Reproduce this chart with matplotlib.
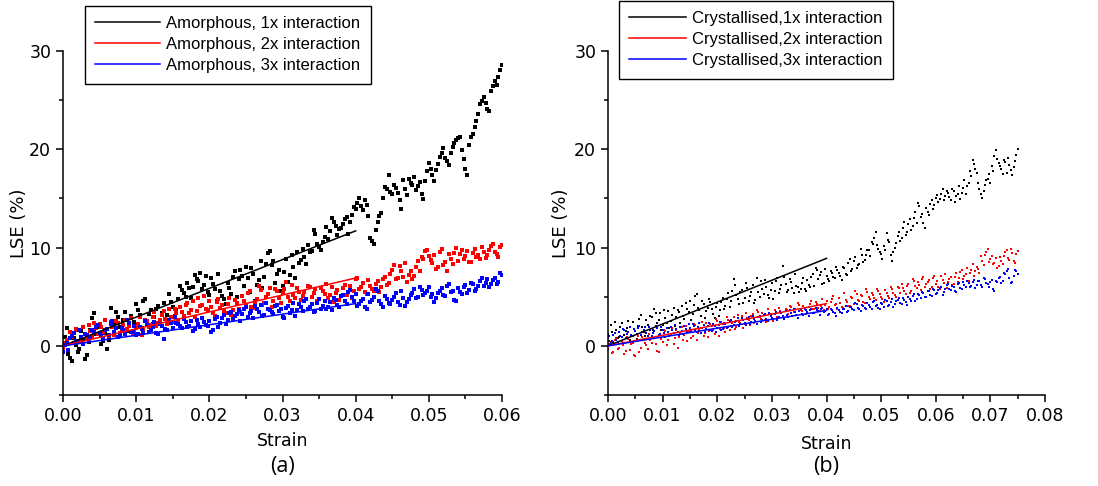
import numpy as np
import matplotlib.pyplot as plt
from matplotlib.ticker import MultipleLocator, FormatStrFormatter
from matplotlib.legend_handler import HandlerLine2D

# LSE (%). Main lists: one value every 0.0005 strain
# starting at 0; *_mid lists: the points in between (0.00025 + k*0.0005).
step = 0.0005

black_a = [0.2, 1.8, -1.2, 0.8, -0.6, 1.5, -1.3, 0.4, 2.8, 1.2,
           1.9, 0.5, -0.3, 3.9, 2.1, 2.9, 1.6, 3.4, 2.2, 1.3,
           4.3, 3.1, 4.6, 2.4, 3.6, 2.9, 4.1, 3.3, 2.7, 5.3,
           4.0, 3.6, 6.1, 5.4, 6.4, 4.9, 7.2, 6.6, 5.8, 7.1,
           5.2, 6.3, 4.6, 5.6, 4.8, 6.4, 5.3, 7.6, 6.8, 7.1,
           8.0, 5.5, 7.3, 6.2, 8.6, 7.0, 9.4, 8.2, 6.4, 7.7,
           6.1, 8.8, 7.2, 8.0, 9.5, 8.7, 9.0, 10.3, 9.7, 11.4,
           10.1, 10.6, 12.1, 11.7, 12.6, 11.3, 12.0, 12.9, 11.4, 13.3,
           13.9, 15.0, 13.8, 14.3, 11.0, 10.4, 12.6, 13.5, 16.2, 17.4,
           15.4, 16.1, 14.8, 16.9, 15.3, 16.6, 17.2, 16.3, 15.4, 16.8,
           18.6, 17.4, 17.9, 19.2, 20.1, 18.8, 19.6, 20.6, 21.1, 19.9,
           18.0, 20.4, 21.6, 22.9, 24.6, 25.3, 24.1, 25.9, 26.9, 27.4,
           28.6]
black_a_mid = [0.9, -0.8, -1.5, 0.1, -0.3, 0.7, -0.9, 1.6, 3.3, 2.0,
               0.2, 1.3, 0.6, 2.5, 3.4, 1.9, 2.6, 1.5, 3.0, 2.4,
               3.6, 1.8, 4.8, 3.2, 2.2, 3.8, 2.6, 4.4, 3.1, 4.5,
               3.0, 4.8, 5.7, 5.0, 5.9, 6.0, 6.8, 7.4, 6.2, 5.5,
               6.9, 5.8, 7.3, 5.1, 4.3, 5.9, 7.0, 5.0, 7.7, 6.1,
               6.9, 7.9, 4.6, 6.7, 5.9, 8.3, 9.7, 8.6, 7.3, 5.6,
               7.5, 6.5, 9.2, 6.9, 8.4, 9.9, 8.3, 9.6, 11.8, 10.4,
               9.8, 11.1, 10.9, 13.0, 12.2, 11.9, 12.4, 13.1, 12.6, 14.1,
               14.5, 14.2, 14.8, 13.2, 10.7, 11.8, 13.2, 15.0, 16.0, 15.7,
               16.4, 15.6, 13.9, 16.0, 17.0, 16.4, 15.9, 16.7, 14.9, 17.8,
               18.0, 16.8, 18.5, 19.6, 19.1, 18.4, 20.2, 20.9, 21.3, 19.0,
               17.4, 21.2, 22.3, 23.6, 24.9, 24.7, 23.9, 26.4, 26.5, 28.1]
red_a = [-0.2, 0.6, 1.4, 0.3, 1.6, 0.9, 1.2, 2.1, 1.0, 1.8,
         2.2, 1.4, 1.7, 2.4, 1.1, 2.3, 1.5, 2.6, 2.0, 1.3,
         1.8, 2.9, 1.6, 2.5, 2.1, 3.4, 2.3, 3.1, 2.7, 3.7,
         2.4, 3.3, 4.0, 3.0, 4.4, 3.6, 2.9, 4.9, 4.2, 3.8,
         4.6, 3.3, 4.5, 3.9, 3.5, 4.3, 3.1, 4.7, 3.8, 5.1,
         4.2, 5.6, 3.9, 4.8, 5.7, 4.4, 5.3, 4.0, 5.8, 4.9,
         5.4, 6.5, 4.6, 5.2, 5.9, 4.7, 5.5, 6.1, 5.0, 5.8,
         4.8, 5.6, 6.3, 5.2, 4.5, 5.7, 5.1, 6.2, 5.5, 4.9,
         6.8, 5.8, 6.4, 5.3, 6.1, 5.6, 6.6, 6.0, 7.0, 6.4,
         7.7, 6.8, 8.1, 7.0, 6.5, 7.6, 7.1, 8.6, 9.0, 9.7,
         9.1, 8.4, 7.8, 9.6, 8.2, 7.6, 8.8, 9.4, 8.6, 9.8,
         9.1, 8.5, 9.4, 9.0, 8.8, 9.6, 9.2, 10.2, 9.5, 9.0,
         10.3]
red_a_mid = [0.3, -0.4, 0.9, 1.7, 0.5, 1.9, 0.8, 1.5, 2.3, 1.2,
             1.9, 2.6, 1.0, 1.9, 2.5, 1.3, 2.1, 1.7, 2.8, 1.5,
             2.2, 1.1, 2.6, 1.9, 2.9, 2.0, 2.6, 3.5, 2.2, 2.9,
             3.8, 2.6, 3.4, 4.2, 3.3, 4.6, 3.5, 4.1, 5.1, 3.6,
             4.0, 3.0, 4.8, 4.2, 3.3, 4.9, 3.6, 4.4, 3.4, 4.6,
             5.4, 4.0, 4.5, 6.1, 4.2, 5.0, 5.9, 4.6, 5.6, 4.4,
             5.8, 5.0, 6.2, 4.9, 5.5, 5.1, 4.8, 6.0, 5.4, 4.6,
             5.9, 5.3, 4.9, 6.0, 5.4, 4.7, 5.9, 5.2, 6.1, 5.6,
             6.9, 6.0, 5.5, 6.7, 5.8, 6.3, 5.5, 6.8, 6.2, 7.3,
             8.2, 6.9, 7.6, 8.4, 7.2, 6.8, 8.0, 7.6, 8.8, 9.8,
             8.7, 9.2, 8.0, 9.9, 8.5, 9.3, 8.3, 10.0, 9.3, 8.8,
             9.7, 8.5, 9.9, 9.2, 10.1, 8.9, 9.8, 10.4, 9.3, 10.1]
blue_a = [-0.6, 0.3, 0.8, 1.3, 0.4, 0.9, 1.2, 0.6, 1.6, 1.9,
          1.3, 0.8, 1.7, 2.2, 1.4, 0.9, 1.8, 1.2, 2.3, 1.5,
          1.1, 1.9, 1.3, 2.1, 1.6, 2.4, 1.2, 2.0, 1.7, 2.6,
          1.8, 2.3, 2.0, 2.7, 1.9, 2.5, 1.7, 2.2, 2.8, 2.1,
          2.5, 1.6, 2.9, 2.3, 3.1, 2.6, 3.4, 3.0, 3.6, 3.2,
          4.0, 3.3, 2.8, 3.7, 4.2, 3.1, 3.8, 3.4, 4.1, 3.5,
          2.9, 3.9, 3.3, 4.4, 3.6, 4.0, 4.6, 3.7, 4.3, 3.5,
          4.8, 4.1, 3.8, 4.5, 4.9, 4.2, 5.1, 4.6, 5.5, 5.0,
          5.3, 4.3, 4.8, 3.8, 4.5, 5.0, 5.6, 4.3, 5.1, 4.4,
          4.7, 5.4, 4.2, 4.9, 4.5, 5.2, 5.8, 5.0, 5.7, 5.4,
          6.0, 5.3, 4.9, 5.6, 5.2, 6.1, 5.5, 4.7, 5.9, 5.3,
          6.2, 5.7, 6.3, 5.8, 6.6, 6.1, 6.8, 6.3, 6.9, 6.5,
          7.2]
blue_a_mid = [0.1, -0.4, 1.0, 0.5, 1.6, 0.2, 1.1, 0.8, 1.4, 2.1,
              1.0, 1.6, 1.1, 2.5, 1.8, 1.1, 1.6, 2.6, 1.4, 2.0,
              1.2, 1.7, 2.5, 1.4, 1.9, 1.3, 2.2, 0.7, 1.6, 2.3,
              2.9, 2.2, 1.8, 2.4, 2.0, 1.5, 2.6, 1.9, 2.4, 2.0,
              1.4, 2.7, 1.9, 2.8, 2.2, 3.3, 2.7, 3.2, 2.5, 3.8,
              2.9, 3.5, 4.1, 3.4, 3.0, 4.4, 3.6, 3.2, 4.2, 3.7,
              2.8, 4.1, 3.6, 3.0, 4.3, 3.5, 4.8, 4.0, 3.4, 4.4,
              3.7, 4.6, 4.0, 3.6, 4.7, 4.0, 5.2, 4.3, 5.7, 4.6,
              4.1, 4.6, 4.0, 5.3, 4.7, 5.8, 4.6, 4.0, 4.8, 4.3,
              5.0, 4.5, 5.6, 4.1, 4.8, 5.4, 4.9, 6.0, 5.2, 5.6,
              5.0, 4.5, 5.4, 5.9, 5.1, 6.3, 5.6, 4.6, 5.5, 6.0,
              5.4, 6.4, 5.6, 6.1, 6.9, 6.4, 6.0, 6.7, 6.3, 7.4]

black_b = [1.2, 2.1, 0.4, 1.6, 0.9, 2.3, 1.1, 1.8, 0.6, 2.4,
           1.5, 2.0, 3.1, 1.4, 2.6, 1.9, 2.9, 3.8, 2.3, 3.3,
           2.1, 2.8, 3.5, 2.5, 3.9, 2.9, 3.4, 4.1, 2.7, 3.7,
           4.6, 3.2, 5.1, 3.9, 3.0, 4.3, 3.5, 4.8, 3.8, 2.8,
           4.4, 3.6, 4.9, 4.1, 5.4, 4.6, 6.8, 5.2, 4.3, 5.7,
           4.9, 5.9, 5.1, 6.2, 4.7, 5.5, 6.6, 5.3, 6.0, 4.9,
           6.4, 5.6, 6.9, 5.8, 8.1, 6.3, 5.7, 6.5, 5.4, 6.1,
           5.5, 6.4, 5.8, 6.7, 6.0, 7.3, 7.9, 6.8, 7.5, 6.4,
           7.1, 6.6, 7.4, 6.9, 7.7, 7.1, 8.0, 7.3, 8.4, 7.6,
           8.6, 7.9, 8.3, 9.2, 8.7, 9.8, 9.1, 10.4, 11.6, 9.9,
           9.3, 10.2, 11.5, 10.6, 8.6, 10.0, 11.2, 10.7, 12.0, 11.3,
           12.4, 11.8, 13.0, 12.5, 14.2, 13.4, 12.0, 13.6, 14.4, 13.9,
           15.0, 14.6, 15.4, 14.8, 15.8, 15.1, 16.0, 14.6, 15.5, 14.9,
           16.1, 15.4, 16.6, 17.3, 18.5, 17.6, 16.0, 15.0, 16.4, 17.0,
           16.6, 17.8, 19.9, 18.6, 18.0, 18.9, 17.6, 18.4, 17.4, 18.8,
           20.0]
black_b_mid = [0.5, 1.4, 2.4, 0.8, 1.9, 0.3, 1.5, 2.5, 1.0, 1.7,
               0.7, 2.7, 1.9, 1.0, 2.1, 3.0, 1.6, 3.3, 2.6, 1.6,
               3.6, 2.3, 1.8, 3.1, 2.0, 3.6, 2.3, 3.0, 4.4, 3.4,
               2.6, 4.2, 5.3, 3.6, 4.6, 2.8, 3.9, 4.5, 3.2, 4.0,
               3.0, 4.5, 3.8, 4.8, 4.0, 5.6, 6.2, 4.8, 5.5, 4.4,
               6.4, 4.6, 5.5, 4.4, 6.9, 5.0, 5.8, 6.7, 5.2, 5.7,
               4.8, 6.6, 5.4, 6.2, 7.0, 5.5, 6.8, 5.9, 7.3, 6.0,
               5.8, 6.9, 5.6, 6.2, 7.0, 6.1, 7.7, 7.2, 6.3, 7.8,
               6.8, 7.6, 7.0, 8.0, 7.4, 6.7, 7.9, 7.2, 8.8, 7.8,
               9.0, 8.2, 9.9, 8.5, 9.2, 9.8, 10.6, 11.0, 10.3, 9.6,
               8.8, 9.8, 10.8, 9.2, 9.5, 10.5, 11.6, 11.0, 12.6, 11.6,
               12.9, 12.2, 13.6, 14.5, 13.1, 12.5, 14.0, 13.3, 14.8, 14.3,
               15.3, 14.9, 16.0, 15.2, 15.6, 14.8, 15.8, 15.2, 16.3, 15.6,
               16.9, 16.3, 17.8, 18.9, 18.0, 16.6, 15.4, 15.8, 16.9, 17.5,
               18.3, 19.3, 19.0, 18.3, 17.5, 18.7, 19.1, 17.9, 18.2, 19.4]
red_b = [-0.3, 0.4, -0.6, 0.8, -0.2, 0.5, -0.8, 0.9, -0.4, 0.3,
         -1.0, 1.0, -0.2, 0.6, 0.1, 1.2, 0.3, 0.8, -0.5, 1.1,
         0.4, 1.5, 0.6, 1.2, 0.2, 1.6, 0.9, 1.9, 1.1, 0.5,
         1.7, 1.0, 2.1, 1.3, 1.8, 1.0, 2.3, 1.5, 2.0, 1.2,
         2.5, 1.7, 2.2, 1.4, 2.6, 2.0, 2.9, 1.9, 2.4, 3.0,
         2.2, 2.8, 2.1, 3.2, 2.5, 3.4, 2.7, 3.1, 2.4, 3.3,
         2.8, 3.6, 2.9, 3.5, 3.0, 3.8, 3.2, 4.0, 3.4, 3.1,
         4.2, 3.5, 3.9, 3.3, 4.3, 3.7, 4.5, 3.9, 4.1, 3.6,
         4.6, 4.0, 4.8, 4.2, 3.8, 4.4, 3.9, 4.7, 4.1, 5.0,
         4.3, 5.3, 4.6, 5.1, 4.4, 5.5, 4.8, 5.2, 4.7, 5.6,
         5.0, 4.5, 5.4, 4.9, 5.8, 5.2, 6.0, 5.4, 5.9, 5.3,
         6.3, 5.6, 6.6, 5.9, 6.2, 6.8, 6.0, 6.5, 5.8, 6.9,
         6.3, 6.0, 7.1, 6.4, 5.9, 6.8, 6.2, 7.0, 6.5, 7.5,
         6.8, 7.3, 6.6, 7.7, 7.1, 8.0, 7.4, 8.6, 9.2, 9.9,
         8.8, 8.3, 8.9, 8.1, 8.6, 9.1, 9.8, 8.7, 9.4, 8.4,
         9.7]
red_b_mid = [0.2, -0.7, 0.6, -0.3, 1.0, 0.1, -0.5, 0.7, 0.2, -0.9,
             0.5, -0.6, 0.9, 0.3, -0.3, 0.6, 1.3, 0.2, -0.6, 0.7,
             1.6, 0.1, 1.0, 1.8, 0.8, -0.2, 1.3, 0.6, 2.0, 1.4,
             0.8, 2.2, 0.6, 1.6, 2.4, 1.3, 0.9, 2.2, 1.6, 2.7,
             1.0, 2.4, 1.8, 2.9, 1.6, 2.3, 1.7, 3.1, 2.3, 1.8,
             3.3, 2.6, 3.0, 2.3, 3.6, 2.9, 3.3, 2.6, 3.7, 3.2,
             2.5, 3.4, 3.9, 3.3, 2.7, 3.6, 4.1, 3.0, 3.8, 4.4,
             3.6, 4.1, 3.2, 4.0, 4.6, 3.8, 4.3, 3.5, 4.8, 4.2,
             3.7, 4.5, 5.1, 4.3, 4.9, 4.0, 5.4, 4.5, 4.1, 4.9,
             5.6, 4.7, 5.2, 4.5, 5.8, 5.0, 5.4, 4.9, 5.8, 5.3,
             4.8, 5.7, 5.1, 6.0, 5.4, 5.0, 5.9, 6.3, 5.6, 6.1,
             5.4, 6.8, 6.1, 6.5, 5.7, 7.0, 6.3, 6.7, 6.0, 7.1,
             6.6, 5.8, 6.7, 7.3, 6.5, 7.0, 6.3, 7.4, 6.9, 7.7,
             7.1, 7.9, 7.4, 8.3, 7.6, 7.8, 9.1, 8.2, 9.5, 8.5,
             9.1, 8.4, 7.9, 9.0, 8.3, 9.5, 8.9, 9.9, 8.6, 9.3]
blue_b = [0.8, 0.3, 1.1, 0.6, 1.4, 0.9, 1.6, 1.2, 1.9, 1.0,
          1.5, 1.8, 1.1, 1.6, 1.3, 1.9, 1.0, 1.5, 1.8, 1.2,
          1.6, 0.9, 1.4, 1.9, 1.3, 1.7, 1.1, 1.5, 2.0, 1.4,
          1.8, 2.2, 1.6, 1.9, 1.3, 2.1, 1.7, 2.3, 1.5, 2.0,
          1.8, 2.4, 1.7, 2.2, 1.9, 2.6, 2.1, 2.5, 2.0, 2.8,
          2.3, 2.7, 2.2, 3.0, 2.5, 2.9, 2.4, 3.1, 2.7, 3.3,
          2.8, 3.2, 2.6, 3.4, 3.0, 3.5, 2.9, 3.3, 3.7, 3.1,
          3.5, 3.2, 3.8, 3.4, 3.6, 3.3, 3.9, 3.5, 3.7, 3.4,
          3.8, 3.2, 3.6, 3.3, 3.9, 3.4, 3.7, 4.1, 3.5, 4.0,
          3.6, 4.3, 3.8, 4.2, 3.9, 4.4, 4.0, 4.5, 4.1, 3.9,
          4.4, 4.0, 4.6, 4.2, 4.8, 4.3, 4.7, 4.4, 4.9, 4.5,
          5.0, 4.6, 5.3, 4.8, 5.2, 5.5, 5.0, 5.6, 5.2, 5.8,
          5.3, 5.7, 6.0, 5.5, 6.2, 5.8, 6.1, 5.6, 6.3, 5.9,
          6.5, 6.0, 6.4, 6.1, 6.7, 6.2, 6.6, 6.0, 6.8, 6.3,
          6.5, 5.8, 6.6, 6.9, 6.4, 7.4, 7.6, 6.9, 6.5, 7.7,
          7.3]
blue_b_mid = [1.0, 0.5, 1.3, 0.4, 1.0, 1.7, 0.8, 1.4, 1.1, 1.7,
              1.2, 2.0, 1.4, 1.9, 1.0, 1.6, 1.3, 2.0, 1.1, 1.9,
              1.3, 1.8, 1.0, 1.6, 2.1, 1.4, 1.9, 1.2, 1.7, 2.2,
              1.5, 2.0, 1.4, 2.3, 1.8, 1.4, 2.0, 1.6, 2.2, 1.4,
              2.1, 1.6, 2.3, 1.8, 2.5, 1.9, 2.4, 2.8, 2.2, 2.6,
              2.1, 2.9, 2.4, 2.7, 2.2, 3.0, 2.6, 3.2, 2.5, 3.0,
              2.7, 3.4, 2.9, 3.3, 2.7, 3.1, 3.6, 3.0, 3.4, 2.8,
              3.7, 3.1, 3.6, 3.0, 3.8, 3.3, 3.6, 3.1, 3.9, 3.5,
              3.1, 3.7, 3.4, 3.0, 3.6, 3.3, 3.8, 3.4, 4.0, 3.7,
              4.4, 3.9, 3.5, 4.1, 3.8, 4.2, 3.8, 4.6, 4.2, 3.8,
              4.3, 4.7, 4.1, 4.5, 4.0, 4.6, 4.9, 4.3, 4.7, 4.2,
              4.8, 5.1, 4.6, 5.3, 4.9, 5.4, 5.0, 5.6, 5.1, 5.7,
              5.4, 5.9, 5.2, 5.8, 6.3, 5.7, 6.0, 5.5, 6.4, 5.8,
              6.2, 6.6, 6.0, 6.5, 5.9, 6.6, 6.2, 6.9, 6.4, 6.0,
              6.7, 5.6, 6.5, 7.0, 6.6, 7.3, 7.8, 6.4, 7.1, 7.6]

# linear fits drawn from the origin up to strain 0.04 (black, red, blue)
fit_end_x = 0.04
fit_end_a = [11.7, 6.9, 4.3]
fit_end_b = [8.9, 4.3, 3.6]

labels_a = ['Amorphous, 1x interaction', 'Amorphous, 2x interaction',
            'Amorphous, 3x interaction']
labels_b = ['Crystallised,1x interaction', 'Crystallised,2x interaction',
            'Crystallised,3x interaction']
colors = ['black', 'red', 'blue']


def with_strain(main, mid):
    """join the on-grid and in-between readings into (strain, LSE) arrays"""
    x = np.concatenate([np.arange(len(main)) * step,
                        step / 2 + np.arange(len(mid)) * step])
    y = np.concatenate([main, mid])
    return x, y


class RightLine(HandlerLine2D):
    """legend line that only fills the right part of the handle box"""

    def __init__(self, frac, **kw):
        super().__init__(**kw)
        self.frac = frac

    def create_artists(self, legend, orig_handle, xdescent, ydescent,
                       width, height, fontsize, trans):
        arts = super().create_artists(legend, orig_handle, xdescent, ydescent,
                                      width, height, fontsize, trans)
        x0 = -xdescent + width * self.frac
        x1 = -xdescent + width
        for a in arts:
            if len(a.get_xdata()) == 2:
                a.set_xdata([x0, x1])
        return arts


plt.rcParams['font.family'] = 'DejaVu Sans'

fig = plt.figure(figsize=(10.98, 4.86), dpi=100)
ax_a = fig.add_axes([63 / 1098, 1 - 395 / 486, 439 / 1098, 344 / 486])
ax_b = fig.add_axes([608 / 1098, 1 - 395 / 486, 437 / 1098, 344 / 486])


def draw_panel(ax, series, fit_ends, labels, xmax, ms, legend_pos,
               hlen, frac, tag, ylpad, xlpad):
    for (main, mid), c in zip(series, colors):
        x, y = with_strain(main, mid)
        ax.plot(x, y, 's', color=c, ms=ms, mew=0, zorder=2)
    handles = []
    for v, c in zip(fit_ends, colors):
        h, = ax.plot([0, fit_end_x], [0, v], '-', color=c, lw=1.1, zorder=3)
        handles.append(h)

    ax.set_xlim(0, xmax)
    ax.set_ylim(-5, 30)
    ax.xaxis.set_major_locator(MultipleLocator(0.01))
    ax.xaxis.set_minor_locator(MultipleLocator(0.005))
    ax.xaxis.set_major_formatter(FormatStrFormatter('%.2f'))
    ax.yaxis.set_major_locator(MultipleLocator(10))
    ax.yaxis.set_minor_locator(MultipleLocator(5))
    ax.tick_params(which='major', direction='out', length=5, width=1.1,
                   labelsize=12.5)
    ax.tick_params(which='minor', direction='out', length=3, width=1.1)
    for s in ['top', 'right']:
        ax.spines[s].set_visible(False)
    for s in ['left', 'bottom']:
        ax.spines[s].set_linewidth(1.1)
    ax.set_xlabel('Strain', fontsize=12.5, labelpad=xlpad)
    ax.set_ylabel('LSE (%)', fontsize=13, labelpad=ylpad)

    leg = ax.legend(handles, labels, loc='upper left',
                    bbox_to_anchor=legend_pos, bbox_transform=fig.transFigure,
                    borderaxespad=0, fancybox=False, frameon=True,
                    edgecolor='black', framealpha=1,
                    prop={'family': 'Liberation Sans', 'size': 12},
                    handlelength=hlen, handletextpad=0.35, labelspacing=0.36,
                    borderpad=0.62,
                    handler_map={h: RightLine(frac) for h in handles})
    leg.get_frame().set_linewidth(1.0)

    ax.text(0.5, -0.209, tag, transform=ax.transAxes, ha='center',
            va='center', fontsize=15.5, family='Open Sans')


draw_panel(ax_a, [(black_a, black_a_mid), (red_a, red_a_mid),
                  (blue_a, blue_a_mid)],
           fit_end_a, labels_a, 0.06, 2.3, (85 / 1098, 1 - 6 / 486),
           3.9, 0.41, '(a)', 0.5, 5.5)
draw_panel(ax_b, [(black_b, black_b_mid), (red_b, red_b_mid),
                  (blue_b, blue_b_mid)],
           fit_end_b, labels_b, 0.08, 1.6, (619 / 1098, 1 - 1 / 486),
           3.4, 0.37, '(b)', 3, 7.5)

fig.savefig('out.png', dpi=100)
